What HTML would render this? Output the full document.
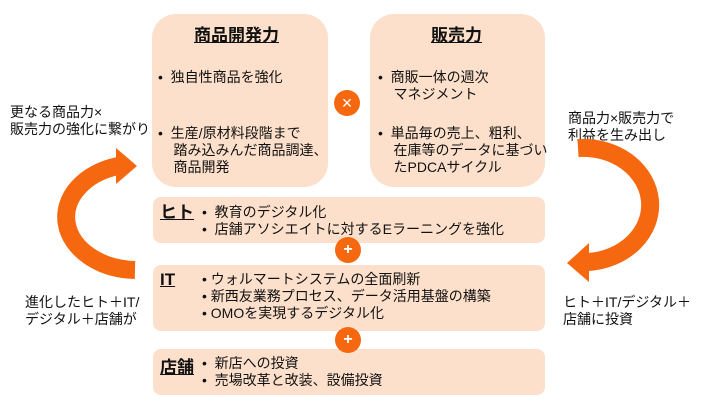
<!DOCTYPE html>
<html><head><meta charset="utf-8"><style>
body{margin:0;width:703px;height:411px;background:#fff;position:relative;overflow:hidden;font-family:"Liberation Sans","Noto Sans CJK JP",sans-serif;color:#111;font-size:14px;}
.b{position:absolute;background:#fde0cb;}
.t{position:absolute;white-space:nowrap;line-height:17px;}
.h{font-weight:bold;text-decoration:underline;font-size:17px;}
.c{position:absolute;width:26px;height:26px;border-radius:50%;background:#f5680f;color:#fff;font-weight:bold;text-align:center;line-height:26px;font-size:16px;}
</style></head><body>
<div class="b" style="left:152px;top:14px;width:176px;height:173px;border-radius:24px"></div>
<div class="b" style="left:370px;top:14px;width:175px;height:173px;border-radius:24px"></div>
<div class="b" style="left:153px;top:197px;width:392px;height:46px;border-radius:8px"></div>
<div class="b" style="left:153px;top:265px;width:392px;height:66px;border-radius:8px"></div>
<div class="b" style="left:153px;top:349px;width:392px;height:46px;border-radius:8px"></div>
<div class="c" style="left:334px;top:90px;font-weight:normal;font-size:18px">×</div>
<div class="c" style="left:335px;top:237px">+</div>
<div class="c" style="left:335px;top:327px">+</div>
<div class="t h" style="left:194px;top:27px">商品開発力</div>
<div class="t h" style="left:431px;top:27px">販売力</div>
<div class="t" style="left:158px;top:69px">•&nbsp;&nbsp;独自性商品を強化</div>
<div class="t" style="left:158px;top:125px">•&nbsp;&nbsp;生産/原材料段階まで<br>&nbsp;&nbsp;&nbsp;&nbsp;踏み込みんだ商品調達、<br>&nbsp;&nbsp;&nbsp;&nbsp;商品開発</div>
<div class="t" style="left:378px;top:69px">•&nbsp;&nbsp;商販一体の週次<br>&nbsp;&nbsp;&nbsp;&nbsp;マネジメント</div>
<div class="t" style="left:378px;top:125px">•&nbsp;&nbsp;単品毎の売上、粗利、<br>&nbsp;&nbsp;&nbsp;&nbsp;在庫等のデータに基づい<br>&nbsp;&nbsp;&nbsp;&nbsp;たPDCAサイクル</div>
<div class="t h" style="left:160px;top:204px">ヒト</div>
<div class="t" style="left:202px;top:204px">•&nbsp;&nbsp;教育のデジタル化<br>•&nbsp;&nbsp;店舗アソシエイトに対するEラーニングを強化</div>
<div class="t h" style="left:160px;top:271px">IT</div>
<div class="t" style="left:202px;top:271px">•&nbsp;ウォルマートシステムの全面刷新<br>•&nbsp;新西友業務プロセス、データ活用基盤の構築<br>•&nbsp;OMOを実現するデジタル化</div>
<div class="t h" style="left:160px;top:359px">店舗</div>
<div class="t" style="left:202px;top:355px">•&nbsp;&nbsp;新店への投資<br>•&nbsp;&nbsp;売場改革と改装、設備投資</div>
<div class="t" style="left:10px;top:104px">更なる商品力×<br>販売力の強化に繋がり</div>
<div class="t" style="left:25px;top:294px">進化したヒト＋IT/<br>デジタル＋店舗が</div>
<div class="t" style="left:568px;top:110px">商品力×販売力で<br>利益を生み出し</div>
<div class="t" style="left:563px;top:294px">ヒト＋IT/デジタル＋<br>店舗に投資</div>
<svg width="703" height="411" style="position:absolute;left:0;top:0">
<path d="M135,270 A71,53 0 0 1 118,166" fill="none" stroke="#f5680f" stroke-width="18"/>
<polygon points="116,148 137,166 116,184" fill="#f5680f"/>
<path d="M578,148 A67,57 0 0 1 588,262" fill="none" stroke="#f5680f" stroke-width="18"/>
<polygon points="589,243 567,263 589,282" fill="#f5680f"/>
</svg>
</body></html>
